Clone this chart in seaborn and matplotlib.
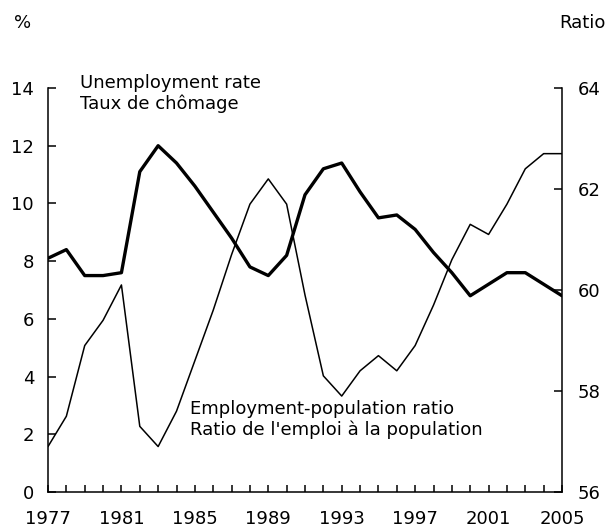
import seaborn as sns
import matplotlib.pyplot as plt
from matplotlib.ticker import MultipleLocator

# Datos
years = list(range(1977, 2006))
unemployment = [8.1, 8.4, 7.5, 7.5, 7.6, 11.1, 12.0, 11.4, 10.6, 9.7,
                8.8, 7.8, 7.5, 8.2, 10.3, 11.2, 11.4, 10.4, 9.5, 9.6,
                9.1, 8.3, 7.6, 6.8, 7.2, 7.6, 7.6, 7.2, 6.8]
emp_ratio = [56.9, 57.5, 58.9, 59.4, 60.1, 57.3, 56.9, 57.6, 58.6, 59.6,
             60.7, 61.7, 62.2, 61.7, 59.9, 58.3, 57.9, 58.4, 58.7, 58.4,
             58.9, 59.7, 60.6, 61.3, 61.1, 61.7, 62.4, 62.7, 62.7]
year_ticks = list(range(1977, 2006, 4))

sns.set_style("ticks", {"axes.edgecolor": "black", "text.color": "black",
                        "xtick.color": "black", "ytick.color": "black",
                        "axes.labelcolor": "black"})
plt.rcParams["font.family"] = ["DejaVu Sans"]
plt.rcParams["font.size"] = 13

fig = plt.figure(figsize=(6.08, 5.31), dpi=100)
ax = fig.add_axes([48 / 608, 39 / 531, 514 / 608, 404 / 531])
ax2 = ax.twinx()

# Tasa de desempleo (eje izquierdo)
sns.lineplot(x=years, y=unemployment, ax=ax, color="black", linewidth=2.4)
# Ratio empleo-población (eje derecho)
sns.lineplot(x=years, y=emp_ratio, ax=ax2, color="black", linewidth=1.1)

ax.set_xlim(1977, 2005)
ax.set_ylim(0, 14)
ax2.set_ylim(56, 64)
ax.set_yticks(range(0, 15, 2))
ax2.set_yticks(range(56, 65, 2))
ax.set_xticks(year_ticks)
ax.xaxis.set_minor_locator(MultipleLocator(1))

for a in (ax, ax2):
    a.spines["top"].set_visible(False)
    for s in a.spines.values():
        s.set_linewidth(1.1)
        s.set_color("black")
    a.set_xlabel("")
    a.set_ylabel("")
ax.spines["right"].set_visible(False)
ax2.spines["left"].set_visible(False)
ax2.spines["bottom"].set_visible(False)

ax.tick_params(axis="y", direction="in", length=6, width=1.1, pad=10,
               labelsize=13, colors="black")
ax2.tick_params(axis="y", direction="in", length=6, width=1.1, pad=11,
                labelsize=13, colors="black")
ax.tick_params(axis="x", which="both", direction="in", length=5, width=1.1,
               pad=13, labelsize=13, colors="black")

ax.text(1978.75, 14.5, "Unemployment rate\nTaux de chômage", va="top",
        ha="left", fontsize=13, color="black")
ax.text(1984.73, 3.2, "Employment-population ratio\nRatio de l'emploi à la population",
        va="top", ha="left", fontsize=13, color="black")

fig.text(14 / 608, 1 - 23 / 531, "%", va="center", ha="left", fontsize=13,
         color="black")
fig.text(606 / 608, 1 - 23 / 531, "Ratio", va="center", ha="right", fontsize=13,
         color="black")

plt.savefig("out.png", dpi=100)
